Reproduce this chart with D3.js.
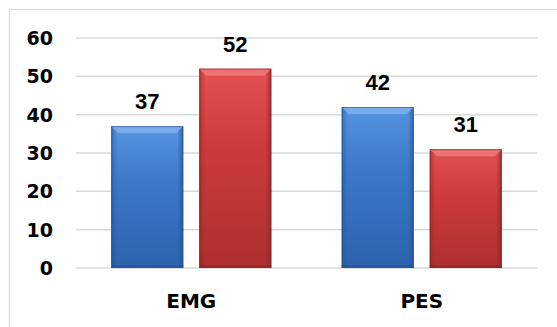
<!DOCTYPE html>
<html>
<head>
<meta charset="utf-8">
<script src="https://cdn.jsdelivr.net/npm/d3@7"></script>
<style>
    body { margin: 0; background: #fff; }
    svg { display: block; }
</style>
</head>
<body>
<div id="mainDiv"></div>
<script>
var categories = [ 'EMG', 'PES' ];
var seriesNames = [ 'blue', 'red' ];
var blueValues = [ 37, 42 ];
var redValues = [ 52, 31 ];
var yTicks = [ 0, 10, 20, 30, 40, 50, 60 ];

var Chart = Chart || {};

Chart.main = function () {

    var _width = 557, _height = 327,
        _plot = { left: 76, right: 537, top: 38, bottom: 268 },
        _colors = {
            blue: { top: '#5595e0', mid: '#3b78c8', bot: '#2d62ad', edge: '#23508f', bevel: '#7fb0ec' },
            red: { top: '#e25252', mid: '#cc3b3b', bot: '#ad2f2f', edge: '#8a2424', bevel: '#ee7a7a' }
        },
        _values = { blue: blueValues, red: redValues },
        _svg, _defs, _grp;

    _svg = d3.select( '#mainDiv' )
        .append( 'svg' )
        .attr( 'width', _width )
        .attr( 'height', _height );

    _defs = _svg.append( 'defs' );
    seriesNames.forEach( function ( s ) {
        var g = _defs.append( 'linearGradient' )
            .attr( 'id', 'grad_' + s )
            .attr( 'x1', 0 ).attr( 'y1', 0 ).attr( 'x2', 0 ).attr( 'y2', 1 );
        g.append( 'stop' ).attr( 'offset', '0%' ).attr( 'stop-color', _colors[ s ].top );
        g.append( 'stop' ).attr( 'offset', '40%' ).attr( 'stop-color', _colors[ s ].mid );
        g.append( 'stop' ).attr( 'offset', '100%' ).attr( 'stop-color', _colors[ s ].bot );
        var h = _defs.append( 'linearGradient' )
            .attr( 'id', 'side_' + s )
            .attr( 'x1', 0 ).attr( 'y1', 0 ).attr( 'x2', 1 ).attr( 'y2', 0 );
        h.append( 'stop' ).attr( 'offset', '0%' ).attr( 'stop-color', _colors[ s ].edge ).attr( 'stop-opacity', 0.55 );
        h.append( 'stop' ).attr( 'offset', '8%' ).attr( 'stop-color', _colors[ s ].edge ).attr( 'stop-opacity', 0 );
        h.append( 'stop' ).attr( 'offset', '92%' ).attr( 'stop-color', _colors[ s ].edge ).attr( 'stop-opacity', 0 );
        h.append( 'stop' ).attr( 'offset', '100%' ).attr( 'stop-color', _colors[ s ].edge ).attr( 'stop-opacity', 0.7 );
    } );

    // outer frame
    _svg.append( 'rect' )
        .attr( 'x', 9.5 ).attr( 'y', 9.5 )
        .attr( 'width', _width + 10 ).attr( 'height', _height + 10 )
        .attr( 'fill', 'none' )
        .attr( 'stroke', '#d9d9d9' )
        .attr( 'stroke-width', 1.2 );

    var y = d3.scaleLinear().domain( [ 0, 60 ] ).range( [ _plot.bottom, _plot.top ] );
    var x0 = d3.scaleBand().domain( categories ).range( [ _plot.left, _plot.right ] ).padding( 0 );
    var x1 = d3.scaleBand().domain( seriesNames ).range( [ 0, x0.bandwidth() ] )
        .paddingInner( 0.182 ).paddingOuter( 0.4 );

    _grp = _svg.append( 'g' );

    // gridlines
    _grp.selectAll( 'line.grid' )
        .data( yTicks )
        .enter()
        .append( 'line' )
        .attr( 'class', 'grid' )
        .attr( 'x1', _plot.left ).attr( 'x2', _plot.right )
        .attr( 'y1', function ( d ) { return y( d ); } )
        .attr( 'y2', function ( d ) { return y( d ); } )
        .attr( 'stroke', '#d9d9d9' )
        .attr( 'stroke-width', 1.5 );

    // y tick labels
    _grp.selectAll( 'text.ytick' )
        .data( yTicks )
        .enter()
        .append( 'text' )
        .attr( 'class', 'ytick' )
        .attr( 'x', 53 )
        .attr( 'y', function ( d ) { return y( d ); } )
        .attr( 'dy', '0.36em' )
        .attr( 'text-anchor', 'end' )
        .attr( 'font-family', 'DejaVu Sans' )
        .attr( 'font-weight', 'bold' )
        .attr( 'font-size', 19 )
        .attr( 'fill', '#000' )
        .text( function ( d ) { return d; } );

    // category labels
    _grp.selectAll( 'text.cat' )
        .data( categories )
        .enter()
        .append( 'text' )
        .attr( 'class', 'cat' )
        .attr( 'x', function ( d ) { return x0( d ) + x0.bandwidth() / 2; } )
        .attr( 'y', 308 )
        .attr( 'text-anchor', 'middle' )
        .attr( 'font-family', 'DejaVu Sans' )
        .attr( 'font-weight', 'bold' )
        .attr( 'font-size', 20 )
        .attr( 'fill', '#000' )
        .text( function ( d ) { return d; } );

    // bars
    var bevel = 7;
    seriesNames.forEach( function ( s ) {
        var bars = _grp.selectAll( 'g.bar_' + s )
            .data( categories.map( function ( c, i ) { return { cat: c, val: _values[ s ][ i ] }; } ) )
            .enter()
            .append( 'g' )
            .attr( 'class', 'bar_' + s );

        bars.append( 'rect' )
            .attr( 'x', function ( d ) { return x0( d.cat ) + x1( s ); } )
            .attr( 'y', function ( d ) { return y( d.val ); } )
            .attr( 'width', x1.bandwidth() )
            .attr( 'height', function ( d ) { return y( 0 ) - y( d.val ); } )
            .attr( 'fill', 'url(#grad_' + s + ')' );

        bars.append( 'rect' )
            .attr( 'x', function ( d ) { return x0( d.cat ) + x1( s ); } )
            .attr( 'y', function ( d ) { return y( d.val ); } )
            .attr( 'width', x1.bandwidth() )
            .attr( 'height', function ( d ) { return y( 0 ) - y( d.val ); } )
            .attr( 'fill', 'url(#side_' + s + ')' );

        // top bevel
        bars.append( 'path' )
            .attr( 'd', function ( d ) {
                var xl = x0( d.cat ) + x1( s ), xr = xl + x1.bandwidth(), yt = y( d.val );
                return 'M' + xl + ',' + yt + 'L' + xr + ',' + yt +
                    'L' + ( xr - bevel ) + ',' + ( yt + bevel ) + 'L' + ( xl + bevel ) + ',' + ( yt + bevel ) + 'Z';
            } )
            .attr( 'fill', _colors[ s ].bevel )
            .attr( 'opacity', 0.85 );

        // bottom shade
        bars.append( 'rect' )
            .attr( 'x', function ( d ) { return x0( d.cat ) + x1( s ); } )
            .attr( 'y', y( 0 ) - 3 )
            .attr( 'width', x1.bandwidth() )
            .attr( 'height', 3 )
            .attr( 'fill', _colors[ s ].edge )
            .attr( 'opacity', 0.45 );

        // outline
        bars.append( 'rect' )
            .attr( 'x', function ( d ) { return x0( d.cat ) + x1( s ) + 0.5; } )
            .attr( 'y', function ( d ) { return y( d.val ) + 0.5; } )
            .attr( 'width', x1.bandwidth() - 1 )
            .attr( 'height', function ( d ) { return y( 0 ) - y( d.val ) - 1; } )
            .attr( 'fill', 'none' )
            .attr( 'stroke', _colors[ s ].edge )
            .attr( 'stroke-opacity', 0.6 )
            .attr( 'stroke-width', 1 );

        // value labels
        bars.append( 'text' )
            .attr( 'x', function ( d ) { return x0( d.cat ) + x1( s ) + x1.bandwidth() / 2; } )
            .attr( 'y', function ( d ) { return y( d.val ) - 17; } )
            .attr( 'text-anchor', 'middle' )
            .attr( 'font-family', 'Liberation Sans, Arial' )
            .attr( 'font-weight', 'bold' )
            .attr( 'font-size', 22 )
            .attr( 'fill', '#000' )
            .text( function ( d ) { return d.val; } );
    } );
}();
</script>
</body>
</html>
